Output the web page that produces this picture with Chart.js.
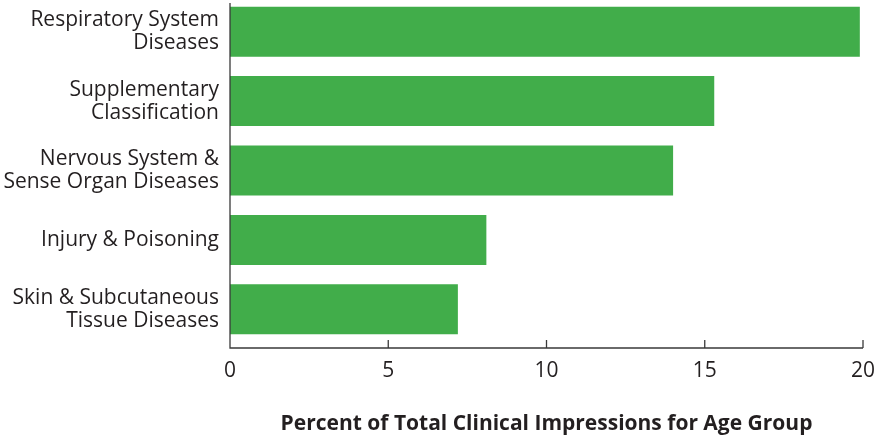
<!DOCTYPE html>
<html>
<head>
<meta charset="utf-8">
<script src="https://cdn.jsdelivr.net/npm/chart.js@4"></script>
<style>
  html, body { margin: 0; padding: 0; background: #fff; overflow: hidden; }
  #wrap { position: relative; width: 884px; height: 447px; margin-top: -3px; }
</style>
</head>
<body>
<div id="wrap"><canvas id="chart"></canvas></div>
<script>
// Data
const categories = [
  ['Respiratory System', 'Diseases'],
  ['Supplementary', 'Classification'],
  ['Nervous System &', 'Sense Organ Diseases'],
  'Injury & Poisoning',
  ['Skin & Subcutaneous', 'Tissue Diseases']
];
const percentages = [19.9, 15.3, 14.0, 8.1, 7.2];
const axisTitle = 'Percent of Total Clinical Impressions for Age Group';

const textColor = '#231f20';
const lineColor = '#3a3a3a';
const fontFamily = '"Open Sans", "Noto Sans", sans-serif';

// axis lines drawn a little below the plot area, ticks pointing inward
const axisLines = {
  id: 'axisLines',
  afterDatasetsDraw(chart) {
    const { ctx, chartArea, scales } = chart;
    const y0 = chartArea.bottom + 4;
    ctx.save();
    ctx.strokeStyle = lineColor;
    ctx.lineWidth = 1.3;
    ctx.beginPath();
    ctx.moveTo(chartArea.left, 6);
    ctx.lineTo(chartArea.left, y0);
    ctx.lineTo(chartArea.right, y0);
    scales.x.ticks.forEach(t => {
      const px = scales.x.getPixelForValue(t.value);
      ctx.moveTo(px, y0);
      ctx.lineTo(px, y0 - 8);
    });
    ctx.stroke();
    ctx.restore();
  }
};

new Chart(document.getElementById('chart'), {
  type: 'bar',
  data: {
    labels: categories,
    datasets: [{
      data: percentages,
      backgroundColor: '#41ad4a',
      borderWidth: 0,
      barPercentage: 0.72,
      categoryPercentage: 1
    }]
  },
  plugins: [axisLines],
  options: {
    indexAxis: 'y',
    responsive: true,
    maintainAspectRatio: false,
    animation: false,
    layout: { padding: { top: 0, right: 21, left: 0, bottom: 0 } },
    plugins: {
      legend: { display: false },
      tooltip: { enabled: false }
    },
    scales: {
      x: {
        min: 0,
        max: 20,
        grid: { display: false, drawTicks: false },
        border: { display: false },
        ticks: {
          stepSize: 5,
          padding: 14,
          color: textColor,
          font: { family: fontFamily, size: 21 }
        },
        title: {
          display: true,
          text: axisTitle,
          color: textColor,
          padding: { top: 0, bottom: 7 },
          font: { family: fontFamily, size: 21, weight: 'bold' }
        },
        afterFit: s => { s.height = 100; s.paddingLeft = 0; s.paddingRight = 0; }
      },
      y: {
        grid: { display: false, drawTicks: false },
        border: { display: false },
        ticks: {
          padding: 11,
          color: textColor,
          font: { family: fontFamily, size: 21, lineHeight: 1.1 }
        },
        afterFit: s => { s.width = 230; s.paddingTop = 0; s.paddingBottom = 0; }
      }
    }
  }
});
</script>
</body>
</html>
